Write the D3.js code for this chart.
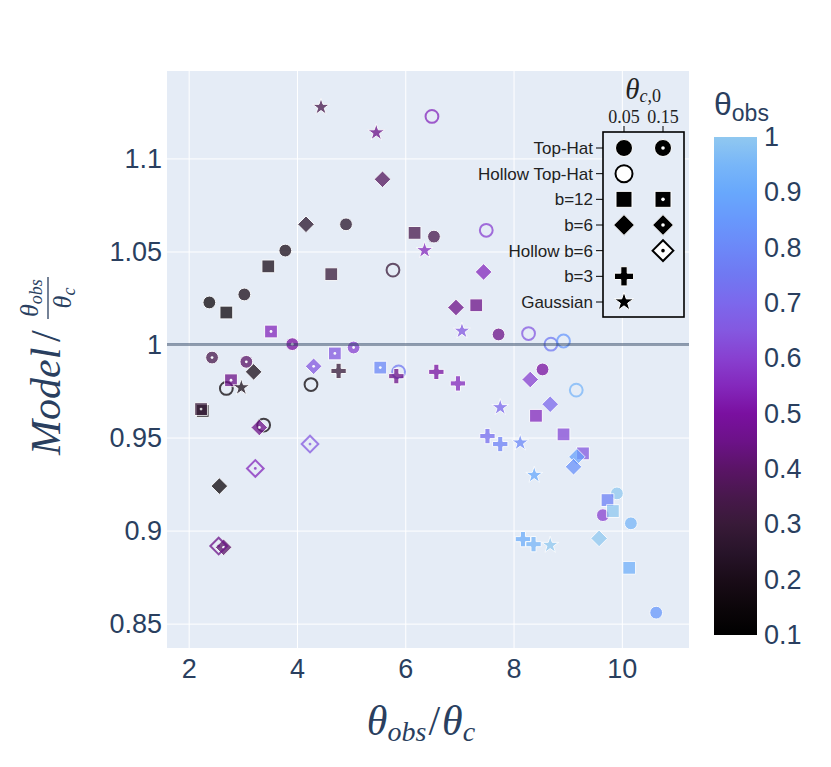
<!DOCTYPE html>
<html>
<head>
<meta charset="utf-8">
<script src="https://cdn.jsdelivr.net/npm/d3@7"></script>
<style>
  body { margin: 0; background: #fff; }
  .tick text { fill: #2a3f5f; font-family: "Liberation Sans", Arial, sans-serif; font-size: 27px; }
</style>
</head>
<body>
<svg id="svg1" width="831" height="767"></svg>
<script>
// each point: [theta_obs / theta_c, Model / (theta_obs/theta_c), theta_obs]
var topHat005 = [[4.906,1.0646,0.25],[3.785,1.0505,0.2],[6.53,1.058,0.35],[2.382,1.0226,0.15],[3.028,1.0269,0.2],
                 [7.723,1.0054,0.45],[8.535,0.9866,0.5],[9.909,0.920,1.0],[9.65,0.9083,0.6],[10.167,0.9039,0.95],[10.634,0.8559,0.85]];
var topHat015 = [[3.914,1.0002,0.5],[5.046,0.9984,0.6],[2.432,0.993,0.35],[3.065,0.9907,0.4]];
var hollowTopHat005 = [[5.773,1.040,0.3],[6.493,1.1226,0.55],[7.496,1.0614,0.6],[8.277,1.0059,0.65],[8.69,1.0002,0.75],
                       [8.923,1.0019,0.85],[2.696,0.9764,0.15],[3.385,0.9567,0.15],[4.259,0.9785,0.15],[5.877,0.9853,0.75],[9.158,0.9755,0.95]];
var b12_005 = [[3.471,1.042,0.2],[4.634,1.0378,0.3],[6.172,1.060,0.35],[2.696,1.0172,0.15],[7.311,1.0211,0.45],[8.414,0.9617,0.55],
               [8.923,0.9517,0.62],[9.282,0.9415,0.65],[9.735,0.9164,0.78],[9.834,0.9105,1.0],[10.136,0.880,0.93],[2.26,0.9643,0.15]];
var b12_015 = [[3.521,1.007,0.55],[4.70,0.9952,0.65],[2.782,0.9808,0.45],[2.229,0.9653,0.3],[5.539,0.9876,0.8]];
var b6_005 = [[5.58,1.0888,0.38],[4.167,1.0646,0.25],[7.446,1.039,0.55],[6.937,1.0199,0.45],[3.2,0.9853,0.2],[2.567,0.9239,0.15],
              [8.308,0.9812,0.6],[8.677,0.9679,0.7],[9.17,0.9396,0.88],[9.108,0.9343,0.83],[9.58,0.8958,1.0]];
var b6_015 = [[3.305,0.9554,0.45],[2.646,0.891,0.4],[4.308,0.9883,0.65]];
var hollowB6_015 = [[3.231,0.9334,0.55],[2.554,0.8917,0.45],[4.241,0.9465,0.65]];
var b3_005 = [[4.769,0.9858,0.3],[5.835,0.983,0.45],[6.574,0.9853,0.5],[6.973,0.9791,0.55],[7.518,0.9508,0.72],
              [7.754,0.9465,0.78],[8.173,0.8954,0.92],[8.369,0.8927,0.95]];
var gaussian005 = [[4.444,1.1276,0.35],[5.465,1.1139,0.45],[6.357,1.0506,0.55],[7.047,1.0073,0.65],[2.973,0.9769,0.2],
                   [7.754,0.9662,0.7],[8.123,0.9472,0.8],[8.382,0.9298,0.9],[8.677,0.8922,1.0]];

var xTicks = [2, 4, 6, 8, 10];
var yTicks = [0.85, 0.9, 0.95, 1, 1.05, 1.1];
var cbTicks = [0.1, 0.2, 0.3, 0.4, 0.5, 0.6, 0.7, 0.8, 0.9, 1];

// colour scale sampled from the colour bar
var cStops = [0.1, 0.15, 0.2, 0.25, 0.3, 0.35, 0.4, 0.45, 0.5, 0.55, 0.6, 0.65, 0.7, 0.75, 0.8, 0.85, 0.9, 0.95, 1];
var cColors = ['#000000','#0c060a','#1a0c18','#28142a','#381a38','#48184c','#5a1466','#6c1288','#7a10a0','#8428bc',
               '#8840d0','#8458e0','#7c68ec','#7078f2','#6c88f8','#6898fc','#68a8fc','#78b6f8','#90c8f0'];

var legendRows = ['Top-Hat', 'Hollow Top-Hat', 'b=12', 'b=6', 'Hollow b=6', 'b=3', 'Gaussian'];
var legendCols = ['0.05', '0.15'];
var legendCells = [
  ['circle', 'circle-dot'],
  ['circle-open', null],
  ['square', 'square-dot'],
  ['diamond', 'diamond-dot'],
  [null, 'diamond-open-dot'],
  ['cross', null],
  ['star', null]
];

var series = [
  {data: topHat005, symbol: 'circle'},
  {data: topHat015, symbol: 'circle-dot'},
  {data: hollowTopHat005, symbol: 'circle-open'},
  {data: b12_005, symbol: 'square'},
  {data: b12_015, symbol: 'square-dot'},
  {data: b6_005, symbol: 'diamond'},
  {data: b6_015, symbol: 'diamond-dot'},
  {data: hollowB6_015, symbol: 'diamond-open-dot'},
  {data: b3_005, symbol: 'cross'},
  {data: gaussian005, symbol: 'star'}
];

var svg = d3.select('#svg1');
var plotLeft = 167, plotRight = 689, plotTop = 71, plotBottom = 648;

var x = d3.scaleLinear().domain([1.6, 11.24]).range([plotLeft, plotRight]);
var y = d3.scaleLinear().domain([0.8369, 1.147]).range([plotBottom, plotTop]);
var color = d3.scaleLinear().domain(cStops).range(cColors).interpolate(d3.interpolateRgb);

// plot background
svg.append('rect')
    .attr('x', plotLeft).attr('y', plotTop)
    .attr('width', plotRight - plotLeft).attr('height', plotBottom - plotTop)
    .attr('fill', '#e5ecf6');

// axes with grid lines
var xAxis = svg.append('g')
    .attr('transform', 'translate(0,' + plotBottom + ')')
    .call(d3.axisBottom(x).tickValues(xTicks).tickSizeInner(-(plotBottom - plotTop)).tickSizeOuter(0).tickPadding(11));
var yAxis = svg.append('g')
    .attr('transform', 'translate(' + plotLeft + ',0)')
    .call(d3.axisLeft(y).tickValues(yTicks).tickFormat(d3.format('~g')).tickSizeInner(-(plotRight - plotLeft)).tickSizeOuter(0).tickPadding(5));
[xAxis, yAxis].forEach(function(a) {
  a.select('.domain').remove();
  a.selectAll('.tick line').attr('stroke', '#fff').attr('stroke-width', 1);
});

// plotly-like marker shapes
function symbolPath(shape, r) {
  if (shape === 'circle') {
    return 'M' + r + ',0A' + r + ',' + r + ' 0 1,1 0,-' + r + 'A' + r + ',' + r + ' 0 0,1 ' + r + ',0Z';
  }
  if (shape === 'square') {
    return 'M' + r + ',' + r + 'H-' + r + 'V-' + r + 'H' + r + 'Z';
  }
  if (shape === 'diamond') {
    var rd = r * 1.3;
    return 'M' + rd + ',0L0,' + rd + 'L-' + rd + ',0L0,-' + rd + 'Z';
  }
  if (shape === 'cross') {
    var rc = r * 0.4, rc2 = r * 1.2;
    return 'M' + rc2 + ',' + rc + 'H' + rc + 'V' + rc2 + 'H-' + rc + 'V' + rc + 'H-' + rc2 + 'V-' + rc +
           'H-' + rc + 'V-' + rc2 + 'H' + rc + 'V-' + rc + 'H' + rc2 + 'Z';
  }
  if (shape === 'star') {
    var rs = r * 1.4;
    var x1 = rs * 0.225, x2 = rs * 0.951, x3 = rs * 0.363, x4 = rs * 0.588;
    var y0 = -rs, y1 = rs * -0.309, y3 = rs * 0.118, y4 = rs * 0.809, y5 = rs * 0.382;
    return 'M' + x1 + ',' + y1 + 'H' + x2 + 'L' + x3 + ',' + y3 + 'L' + x4 + ',' + y4 + 'L0,' + y5 +
           'L-' + x4 + ',' + y4 + 'L-' + x3 + ',' + y3 + 'L-' + x2 + ',' + y1 + 'H-' + x1 + 'L0,' + y0 + 'Z';
  }
}

// draws one marker into selection g; symbol like 'diamond-open-dot'
function drawMarker(g, symbol, r, col, legend) {
  var base = symbol.split('-')[0];
  var open = symbol.indexOf('-open') > -1;
  var dot = symbol.indexOf('-dot') > -1;
  g.append('path')
      .attr('d', symbolPath(base, r))
      .attr('fill', open ? (legend ? '#fff' : 'none') : col)
      .attr('stroke', open ? col : '#fff')
      .attr('stroke-width', open ? 2 : 1);
  if (dot) {
    g.append('circle')
        .attr('r', legend ? 1.8 : 1.4)
        .attr('fill', open ? col : '#fff');
  }
}

var markers = svg.append('g');
series.forEach(function(s) {
  markers.selectAll(null)
      .data(s.data)
      .enter()
      .append('g')
      .attr('transform', function(d) { return 'translate(' + x(d[0]) + ',' + y(d[1]) + ')'; })
      .attr('opacity', 0.75)
      .each(function(d) { drawMarker(d3.select(this), s.symbol, 6.4, color(d[2]), false); });
});

// reference line at 1
svg.append('line')
    .attr('x1', plotLeft).attr('x2', plotRight)
    .attr('y1', y(1)).attr('y2', y(1))
    .attr('stroke', '#2a3f5f').attr('stroke-opacity', 0.5).attr('stroke-width', 3);

// legend box
var rowY = d3.scalePoint().domain(legendRows).range([148, 302]);
var colX = d3.scalePoint().domain(legendCols).range([624, 663]);
var lg = svg.append('g');
lg.append('rect')
    .attr('x', 603).attr('y', 132).attr('width', 81).attr('height', 185)
    .attr('fill', '#e5ecf6').attr('stroke', '#000').attr('stroke-width', 1.6);
legendRows.forEach(function(row, i) {
  lg.append('line').attr('x1', 596).attr('x2', 603).attr('y1', rowY(row)).attr('y2', rowY(row))
      .attr('stroke', '#000').attr('stroke-width', 1);
  lg.append('text')
      .attr('x', 593).attr('y', rowY(row)).attr('dy', '0.35em')
      .attr('text-anchor', 'end')
      .style('font-family', '"Liberation Sans", Arial, sans-serif').style('font-size', '17px').attr('fill', '#222')
      .text(row);
  legendCols.forEach(function(c, j) {
    var sym = legendCells[i][j];
    if (!sym) return;
    var g = lg.append('g').attr('transform', 'translate(' + colX(c) + ',' + rowY(row) + ')');
    drawMarker(g, sym, sym.indexOf('circle') === 0 ? 8.5 : (sym === 'star' ? 7.2 : 8), '#000', true);
  });
});
legendCols.forEach(function(c) {
  lg.append('line').attr('x1', colX(c)).attr('x2', colX(c)).attr('y1', 126).attr('y2', 132)
      .attr('stroke', '#000').attr('stroke-width', 1);
  lg.append('text')
      .attr('x', colX(c)).attr('y', 123).attr('text-anchor', 'middle')
      .style('font-family', '"Liberation Serif", serif').style('font-size', '18px').attr('fill', '#222')
      .text(c);
});
var lt = lg.append('text').attr('x', 643).attr('y', 99).attr('text-anchor', 'middle')
    .style('font-family', '"Liberation Serif", serif').attr('fill', '#222');
lt.append('tspan').style('font-style', 'italic').style('font-size', '29px').text('θ');
lt.append('tspan').style('font-style', 'italic').style('font-size', '18px').attr('dy', 3).text('c');
lt.append('tspan').style('font-size', '18px').text(',0');

// colour bar
var cb = d3.scaleLinear().domain([0.1, 1]).range([635, 137]);
var grad = svg.append('defs').append('linearGradient')
    .attr('id', 'cbgrad').attr('x1', 0).attr('y1', 1).attr('x2', 0).attr('y2', 0);
grad.selectAll('stop')
    .data(cStops)
    .enter()
    .append('stop')
    .attr('offset', function(d) { return (d - 0.1) / 0.9; })
    .attr('stop-color', function(d) { return color(d); });
svg.append('rect')
    .attr('x', 714).attr('y', 137).attr('width', 43).attr('height', 498)
    .attr('fill', 'url(#cbgrad)');
var cbAxis = svg.append('g')
    .attr('transform', 'translate(757,0)')
    .call(d3.axisRight(cb).tickValues(cbTicks).tickFormat(d3.format('~g')).tickSize(0).tickPadding(7));
cbAxis.select('.domain').remove();

var cbt = svg.append('text').attr('x', 714).attr('y', 115)
    .style('font-family', '"Liberation Sans", Arial, sans-serif').attr('fill', '#2a3f5f');
cbt.append('tspan').style('font-size', '32px').text('θ');
cbt.append('tspan').style('font-size', '23px').attr('dy', 6).text('obs');

// x axis title
var xt = svg.append('text').attr('x', 421).attr('y', 735).attr('text-anchor', 'middle')
    .style('font-family', '"Liberation Serif", serif').attr('fill', '#2a3f5f');
xt.append('tspan').style('font-style', 'italic').style('font-size', '42px').text('θ');
xt.append('tspan').style('font-style', 'italic').style('font-size', '28px').attr('dy', 6).text('obs');
xt.append('tspan').style('font-size', '42px').attr('dy', -6).attr('dx', 2).text('/');
xt.append('tspan').style('font-style', 'italic').style('font-size', '42px').attr('dx', 2).text('θ');
xt.append('tspan').style('font-style', 'italic').style('font-size', '28px').attr('dy', 6).text('c');

// y axis title, rotated
var yt = svg.append('g').attr('transform', 'translate(60,455) rotate(-90)')
    .style('font-family', '"Liberation Serif", serif').attr('fill', '#2a3f5f');
yt.append('text').attr('x', 0).attr('y', 0)
    .style('font-style', 'italic').style('font-size', '42px').text('Model');
yt.append('text').attr('x', 113).attr('y', 0).style('font-size', '42px').text('/');
var num = yt.append('text').attr('x', 157).attr('y', -22).attr('text-anchor', 'middle').style('font-style', 'italic');
num.append('tspan').style('font-size', '26px').text('θ');
num.append('tspan').style('font-size', '18px').attr('dy', 4).text('obs');
yt.append('line').attr('x1', 136).attr('x2', 178).attr('y1', -12).attr('y2', -12)
    .attr('stroke', '#2a3f5f').attr('stroke-width', 1.3);
var den = yt.append('text').attr('x', 157).attr('y', 11).attr('text-anchor', 'middle').style('font-style', 'italic');
den.append('tspan').style('font-size', '26px').text('θ');
den.append('tspan').style('font-size', '18px').attr('dy', 4).text('c');
</script>
</body>
</html>
